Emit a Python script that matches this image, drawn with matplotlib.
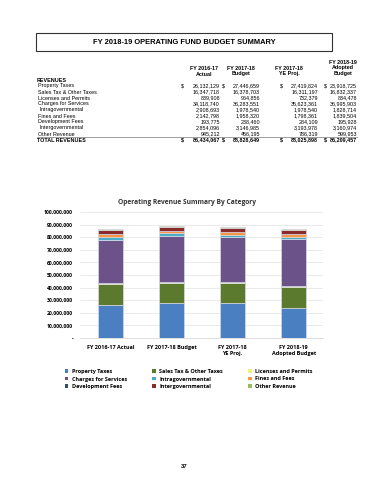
import numpy as np
import matplotlib.pyplot as plt
from matplotlib.patches import Rectangle, Patch
from matplotlib.lines import Line2D
from matplotlib.ticker import FuncFormatter

years = ['FY 2016-17 Actual', 'FY 2017-18 Budget', 'FY 2017-18\nYE Proj.', 'FY 2018-19\nAdopted Budget']
categories = ['Property Taxes', 'Sales Tax & Other Taxes', 'Licenses and Permits', 'Charges for Services',
              'Intragovernmental', 'Fines and Fees', 'Development Fees', 'Intergovernmental', 'Other Revenue']
table_labels = ['Property Taxes', 'Sales Tax & Other Taxes', 'Licenses and Permits', 'Charges for Services',
                ' Intragovernmental', 'Fines and Fees', 'Development Fees', ' Intergovernmental', 'Other Revenue']
actual_1617 = [26132129, 16347718, 839908, 34118740, 2908693, 2142798, 193775, 2854096, 945212]
budget_1718 = [27446659, 16378703, 964856, 36283551, 1978540, 1958320, 238460, 3146985, 456195]
proj_1718 = [27419824, 16311197, 732379, 35623361, 1978540, 1798361, 284109, 3193978, 786319]
adopted_1819 = [23918725, 16832337, 834478, 36995903, 1828714, 1839504, 195928, 3160974, 599953]
totals = [86434067, 88828649, 88025898, 86209457]

colors = ['#4a7fc1', '#5c7a2e', '#f2f07a', '#6b5289', '#4bacc6', '#f79646', '#2c4d75', '#8b2a2a', '#9bbb59']

fig = plt.figure(figsize=(3.7, 4.8), dpi=100)

def fy(y):
    return 1 - y/480

# header box
fig.patches.append(Rectangle((36/370, fy(51)), 296/370, 18/480, transform=fig.transFigure,
                             fill=False, lw=0.8, edgecolor='#333333'))
fig.text(184/370, fy(42), 'FY 2018-19 OPERATING FUND BUDGET SUMMARY', ha='center', va='center',
         fontsize=5.4, fontweight='bold', family='Liberation Sans')

# table
tfont = dict(fontsize=3.9, family='Liberation Sans')
col_right = [220, 260, 318, 357]
col_dollar = [181, 222, 280, 324]
col_center = [204, 241, 289, 343]
heads = [['FY 2016-17', 'Actual'], ['FY 2017-18', 'Budget'], ['FY 2017-18', 'YE Proj.'], ['FY 2018-19', 'Adopted', 'Budget']]
for c, h in enumerate(heads):
    ys = [68, 74] if len(h) == 2 else [62, 68, 74]
    for t, yy in zip(h, ys):
        fig.text(col_center[c]/370, fy(yy), t, ha='center', va='center', fontweight='bold', **tfont)
fig.text(37/370, fy(80), 'REVENUES', ha='left', va='center', fontweight='bold', **tfont)
cols = [actual_1617, budget_1718, proj_1718, adopted_1819]
for r, lab in enumerate(table_labels):
    yy = 86 + 6*r
    fig.text(38/370, fy(yy), lab, ha='left', va='center', **tfont)
    for c in range(4):
        fig.text(col_right[c]/370, fy(yy), f'{cols[c][r]:,}', ha='right', va='center', **tfont)
        if r == 0:
            fig.text(col_dollar[c]/370, fy(yy), '$', ha='left', va='center', **tfont)
yt = 86 + 6*9
fig.add_artist(Line2D([37/370, 357/370], [fy(yt-3), fy(yt-3)], transform=fig.transFigure, lw=0.4, color='#555555'))
fig.text(37/370, fy(yt), 'TOTAL REVENUES', ha='left', va='center', fontweight='bold', **tfont)
for c in range(4):
    fig.text(col_right[c]/370, fy(yt), f'{totals[c]:,}', ha='right', va='center', fontweight='bold', **tfont)
    fig.text(col_dollar[c]/370, fy(yt), '$', ha='left', va='center', fontweight='bold', **tfont)

# chart
ax = fig.add_axes([80/370, fy(338), 243/370, 126/480])
data = np.array(cols).T  # categories x years
x = np.arange(len(years))
bottom = np.zeros(len(years))
for i, cat in enumerate(categories):
    ax.bar(x, data[i], 0.41, bottom=bottom, color=colors[i], edgecolor='#d9d9e6', linewidth=0.5,
           label=cat, zorder=3)
    bottom += data[i]
ax.set_xlim(-0.5, 3.48)
ax.set_ylim(0, 100000000)
ax.set_yticks(np.arange(0, 100000001, 10000000))
ax.yaxis.set_major_formatter(FuncFormatter(lambda v, p: '-' if v == 0 else f'{int(v):,}'))
ax.grid(axis='y', color='#e6e6e6', lw=0.6, zorder=0)
for s in ['top', 'right', 'left']:
    ax.spines[s].set_visible(False)
ax.spines['bottom'].set_color('#d9d9d9')
ax.spines['bottom'].set_linewidth(0.6)
ax.tick_params(length=0, labelsize=3.7, pad=5)
ax.set_xticks(x)
ax.set_xticklabels(years, fontweight='bold', family='Open Sans', fontsize=4.0, linespacing=1.3)
for t in ax.get_yticklabels():
    t.set_fontweight('bold')
    t.set_family('Open Sans')
fig.text(187/370, fy(203), 'Operating Revenue Summary By Category', ha='center', va='center',
         fontsize=4.8, fontweight='bold', family='Open Sans', color='#333333')

order = [0, 3, 6, 1, 4, 7, 2, 5, 8]
handles = [Patch(facecolor=colors[i], edgecolor='none') for i in order]
leg = fig.legend(handles, [categories[i] for i in order], ncol=3,
                 loc='upper left', bbox_to_anchor=(60/370, fy(364)), frameon=False,
                 prop={'family': 'Open Sans', 'weight': 'bold', 'size': 4.0},
                 handlelength=0.6, handleheight=0.6, handletextpad=0.6, columnspacing=4.6, labelspacing=0.45)

fig.text(184/370, fy(466), '37', ha='center', va='center', fontsize=4.2, fontweight='bold', family='Liberation Sans')

fig.savefig('out.png', dpi=100)
